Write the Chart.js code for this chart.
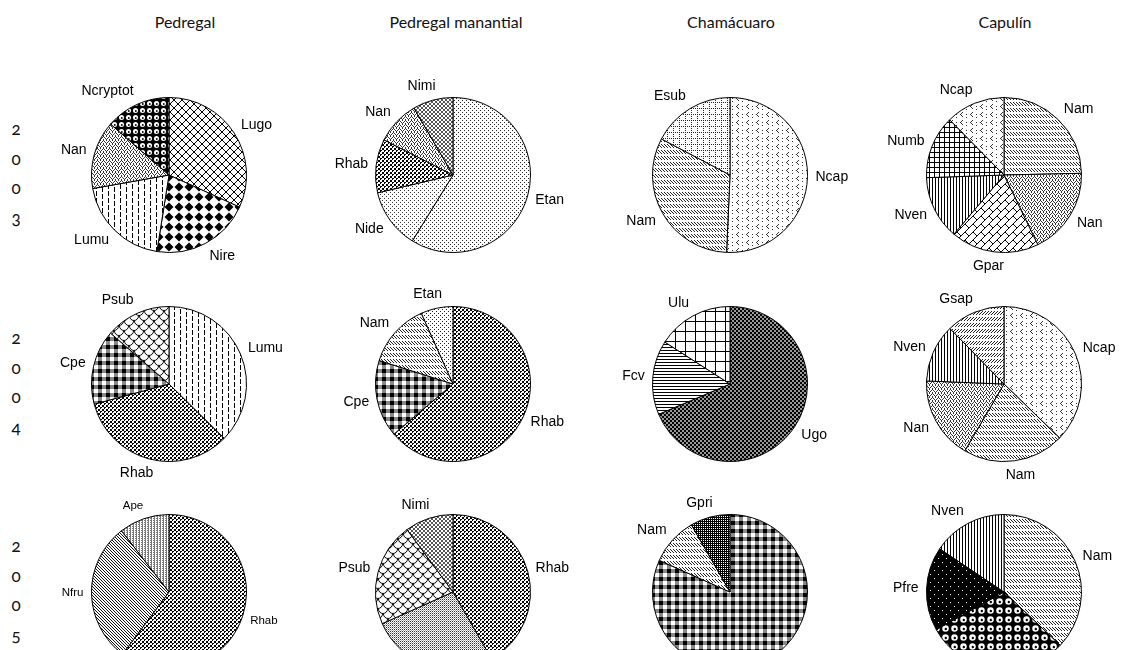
<!DOCTYPE html>
<html>
<head>
<meta charset="utf-8">
<script src="https://cdn.jsdelivr.net/npm/chart.js@4.4.1/dist/chart.umd.min.js"></script>
<style>
  body { margin: 0; width: 1122px; height: 650px; overflow: hidden; position: relative; background: #fff; }
  .site { position: absolute; top: 12px; width: 240px; margin-left: -120px; text-align: center;
          font: 16px Lato, "Open Sans", sans-serif; color: #111; }
  .digit { position: absolute; left: 11px; width: 10px; text-align: center; line-height: 16px;
           font: 17px Lato, "Noto Sans", sans-serif; font-variant-numeric: oldstyle-nums; color: #111; }
  canvas { position: absolute; }
</style>
</head>
<body>
<script>
// ---------------------------
// Data (percent of each pie, clockwise from 12 o'clock)
// ---------------------------
const sites = ["Pedregal", "Pedregal manantial", "Chamácuaro", "Capulín"];
const years = ["2003", "2004", "2005"];

const ped2003Labels = ["Lugo", "Nire", "Lumu", "Nan", "Ncryptot"];
const ped2003Values = [31.8, 20.7, 19.7, 14.2, 13.6];
const pm2003Labels = ["Etan", "Nide", "Rhab", "Nan", "Nimi"];
const pm2003Values = [58.8, 12.5, 11.2, 9.1, 8.4];
const cham2003Labels = ["Ncap", "Nam", "Esub"];
const cham2003Values = [50.7, 32.0, 17.3];
const cap2003Labels = ["Nam", "Nan", "Gpar", "Nven", "Numb", "Ncap"];
const cap2003Values = [24.7, 18.2, 18.4, 13.3, 13.2, 12.4];

const ped2004Labels = ["Lumu", "Rhab", "Cpe", "Psub"];
const ped2004Values = [37.4, 33.4, 15.6, 13.6];
const pm2004Labels = ["Rhab", "Cpe", "Nam", "Etan"];
const pm2004Values = [63.8, 16.1, 13.4, 6.7];
const cham2004Labels = ["Ugo", "Fcv", "Ulu"];
const cham2004Values = [68.6, 15.5, 15.9];
const cap2004Labels = ["Ncap", "Nam", "Nan", "Nven", "Gsap"];
const cap2004Values = [37.3, 21.2, 17.2, 12.1, 12.3];

const ped2005Labels = ["Rhab", "Nfru", "Ape"];
const ped2005Values = [60.2, 29.3, 10.5];
const pm2005Labels = ["Rhab", "", "Psub", "Nimi"];
const pm2005Values = [41.7, 26.6, 21.6, 10.1];
const cham2005Labels = ["", "Nam", "Gpri"];
const cham2005Values = [81.7, 10.0, 8.3];
const cap2005Labels = ["Nam", "", "Pfre", "Nven"];
const cap2005Values = [37.1, 29.9, 17.5, 15.6];

// ---------------------------
// Layout
// ---------------------------
const colX = [169, 453, 730, 1004];
const titleX = [185, 456, 731, 1005];
const rowY = [175, 384, 592];
const CW = 270, CH = 206;

// ---------------------------
// Fill patterns
// ---------------------------
const pctx = document.createElement("canvas").getContext("2d");

function tile(w, h, bg, draw) {
    const c = document.createElement("canvas");
    c.width = w; c.height = h;
    const g = c.getContext("2d");
    g.fillStyle = bg; g.fillRect(0, 0, w, h);
    draw(g);
    return pctx.createPattern(c, "repeat");
}
function px(g, pts, color) {
    g.fillStyle = color;
    pts.forEach(([x, y]) => g.fillRect(x, y, 1, 1));
}
function line(g, pts, color, lw) {
    g.strokeStyle = color; g.lineWidth = lw || 1;
    g.beginPath();
    pts.forEach(([x, y], i) => i ? g.lineTo(x, y) : g.moveTo(x, y));
    g.stroke();
}
function spheres(size) {
    return tile(size, size, "#000", g => {
        const c = size / 2;
        g.fillStyle = "#fff";
        g.beginPath(); g.arc(c, c, size * 0.36, 0, Math.PI * 2); g.fill();
        g.fillStyle = "#000";
        g.beginPath(); g.arc(c + 0.3, c + 0.5, size * 0.13, 0, Math.PI * 2); g.fill();
    });
}

const fills = {
    Lugo: tile(8, 8, "#fff", g => {
        const p = [];
        for (let i = 0; i < 8; i++) { p.push([i, i]); p.push([7 - i, i]); }
        px(g, p, "#000");
    }),
    Nire: tile(10, 10, "#fff", g => {
        g.fillStyle = "#000";
        g.beginPath(); g.moveTo(5, 0.5); g.lineTo(9.5, 5); g.lineTo(5, 9.5); g.lineTo(0.5, 5); g.fill();
    }),
    Lumu: tile(12, 7, "#fff", g => {
        px(g, [[2, 0], [2, 1], [2, 2], [2, 3], [2, 4]], "#000");
        px(g, [[8, 3], [8, 4], [8, 5], [8, 6], [8, 0]], "#000");
    }),
    Nan: tile(6, 4, "#fff", g => px(g, [[0, 3], [1, 2], [2, 1], [3, 0], [4, 1], [5, 2], [0, 0], [3, 3]], "#333")),
    Ncryptot: spheres(7),
    Etan: tile(4, 4, "#fff", g => px(g, [[0, 0], [2, 2]], "#222")),
    Nide: tile(4, 4, "#fff", g => px(g, [[0, 0], [2, 2]], "#333")),
    Rhab: tile(4, 4, "#fff", g => px(g, [[0, 0], [1, 0], [0, 1], [1, 1], [2, 2], [3, 2], [2, 3]], "#000")),
    Nimi: tile(4, 4, "#fff", g => px(g, [[0, 0], [1, 1], [2, 2], [3, 3], [3, 0], [2, 1], [1, 2], [0, 3]], "#555")),
    Ugo: tile(4, 4, "#999", g => px(g, [[0, 0], [1, 1], [2, 2], [3, 3], [3, 0], [2, 1], [1, 2], [0, 3]], "#000")),
    Ncap: tile(10, 8, "#fff", g => {
        px(g, [[3, 0], [2, 1], [1, 2], [2, 3], [3, 4]], "#333");
        px(g, [[7, 2], [7, 5]], "#333");
    }),
    Nam: tile(3, 6, "#fff", g => px(g, [[0, 0], [1, 1], [2, 2], [0, 3]], "#222")),
    Gsap: tile(3, 6, "#fff", g => px(g, [[2, 0], [1, 1], [0, 2], [2, 3]], "#222")),
    Esub: tile(6, 6, "#fff", g => px(g, [[0, 0], [2, 0], [4, 0], [0, 2], [0, 4]], "#222")),
    Numb: tile(5, 5, "#fff", g => {
        g.fillStyle = "#000"; g.fillRect(0, 0, 5, 1); g.fillRect(0, 0, 1, 5);
    }),
    Gpar: tile(8, 8, "#fff", g => {
        line(g, [[-1, 9], [9, -1]], "#000");
        line(g, [[0, 0], [4, 4]], "#000");
    }),
    Nven: tile(3, 1, "#fff", g => px(g, [[0, 0]], "#000")),
    Fcv: tile(1, 3, "#fff", g => px(g, [[0, 0]], "#000")),
    Ulu: tile(10, 10, "#fff", g => {
        g.fillStyle = "#000"; g.fillRect(0, 0, 10, 1); g.fillRect(0, 0, 1, 10);
    }),
    Cpe: tile(8, 8, "#fff", g => {
        g.fillStyle = "#888"; g.fillRect(0, 0, 8, 4); g.fillRect(0, 0, 4, 8);
        g.fillStyle = "#000"; g.fillRect(0, 0, 4, 4);
    }),
    Psub: tile(10, 10, "#fff", g => {
        g.strokeStyle = "#000"; g.lineWidth = 1;
        [[5, 0], [0, 5], [10, 5], [5, 10]].forEach(([x, y]) => {
            g.beginPath(); g.arc(x, y, 4.5, 0, Math.PI); g.stroke();
        });
    }),
    Nfru: tile(3, 3, "#fff", g => px(g, [[0, 0], [1, 1], [2, 2]], "#111")),
    Ape: tile(3, 2, "#fff", g => px(g, [[0, 0], [0, 1], [2, 1]], "#777")),
    Pfre: tile(8, 8, "#000", g => px(g, [[1, 1], [5, 5]], "#fff")),
    Gpri: tile(2, 2, "#000", g => px(g, [[0, 1]], "#fff")),
    fineGray: tile(2, 2, "#fff", g => { px(g, [[0, 0]], "#333"); px(g, [[1, 1]], "#aaa"); }),
    bigSpheres: spheres(9)
};

// slices whose label is cut off at the bottom of the picture
const blankFills = { pm2005: { 1: "fineGray" }, cham2005: { 0: "Cpe" }, cap2005: { 1: "bigSpheres" } };

// ---------------------------
// Outside labels plugin
// ---------------------------
const outsideLabels = {
    id: "outsideLabels",
    afterDatasetsDraw(chart, args, opts) {
        const ctx = chart.ctx;
        const meta = chart.getDatasetMeta(0);
        ctx.save();
        ctx.font = opts.size + 'px "Liberation Sans", Arial, sans-serif';
        ctx.fillStyle = "#000";
        ctx.textAlign = "center";
        ctx.textBaseline = "middle";
        meta.data.forEach((arc, i) => {
            const label = chart.data.labels[i];
            if (!label) return;
            const p = arc.getProps(["x", "y", "startAngle", "endAngle", "outerRadius"], true);
            const mid = (p.startAngle + p.endAngle) / 2;
            const cos = Math.cos(mid), sin = Math.sin(mid);
            const r = p.outerRadius + 8;
            const w = ctx.measureText(label).width, h = opts.size * 0.9;
            const kx = Math.min(1, Math.abs(cos) * 2.5) * Math.sign(cos);
            ctx.fillText(label, p.x + r * cos + kx * w / 2, p.y + r * sin + sin * h / 2);
        });
        ctx.restore();
    }
};

// ---------------------------
// Build the grid
// ---------------------------
const pies = [
    { id: "ped2003", col: 0, row: 0, labels: ped2003Labels, values: ped2003Values },
    { id: "pm2003", col: 1, row: 0, labels: pm2003Labels, values: pm2003Values },
    { id: "cham2003", col: 2, row: 0, labels: cham2003Labels, values: cham2003Values },
    { id: "cap2003", col: 3, row: 0, labels: cap2003Labels, values: cap2003Values },
    { id: "ped2004", col: 0, row: 1, labels: ped2004Labels, values: ped2004Values },
    { id: "pm2004", col: 1, row: 1, labels: pm2004Labels, values: pm2004Values },
    { id: "cham2004", col: 2, row: 1, labels: cham2004Labels, values: cham2004Values },
    { id: "cap2004", col: 3, row: 1, labels: cap2004Labels, values: cap2004Values },
    { id: "ped2005", col: 0, row: 2, labels: ped2005Labels, values: ped2005Values, size: 11.5 },
    { id: "pm2005", col: 1, row: 2, labels: pm2005Labels, values: pm2005Values },
    { id: "cham2005", col: 2, row: 2, labels: cham2005Labels, values: cham2005Values },
    { id: "cap2005", col: 3, row: 2, labels: cap2005Labels, values: cap2005Values }
];

sites.forEach((s, i) => {
    const d = document.createElement("div");
    d.className = "site";
    d.style.left = titleX[i] + "px";
    d.textContent = s;
    document.body.appendChild(d);
});

years.forEach((y, r) => {
    y.split("").forEach((ch, k) => {
        const d = document.createElement("div");
        d.className = "digit";
        d.style.top = (rowY[r] - 41 - 16 + k * 29.5) + "px";
        d.textContent = ch;
        document.body.appendChild(d);
    });
});

pies.forEach(pie => {
    const cv = document.createElement("canvas");
    cv.width = CW; cv.height = CH;
    cv.style.left = (colX[pie.col] - CW / 2) + "px";
    cv.style.top = (rowY[pie.row] - CH / 2) + "px";
    document.body.appendChild(cv);

    const bg = pie.labels.map((l, i) => fills[l || (blankFills[pie.id] || {})[i]] || "#fff");

    new Chart(cv, {
        type: "pie",
        data: {
            labels: pie.labels,
            datasets: [{ data: pie.values, backgroundColor: bg, borderColor: "#000", borderWidth: 1 }]
        },
        options: {
            responsive: false,
            animation: false,
            layout: { padding: { left: 57, right: 57, top: 25, bottom: 25 } },
            plugins: {
                legend: { display: false },
                tooltip: { enabled: false },
                outsideLabels: { size: pie.size || 14 }
            }
        },
        plugins: [outsideLabels]
    });
});
</script>
</body>
</html>
